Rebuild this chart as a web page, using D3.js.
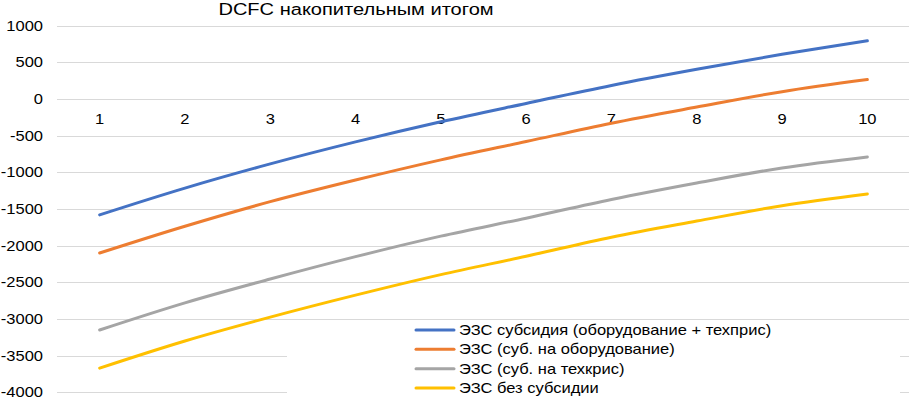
<!DOCTYPE html>
<html>
<head>
<meta charset="utf-8">
<script src="https://cdn.jsdelivr.net/npm/d3@7"></script>
<style>
  body { margin: 0; background: #fff; }
  svg { display: block; font-family: "Liberation Sans", Arial, sans-serif; }
</style>
</head>
<body>
<svg width="909" height="398"></svg>
<script>
const TITLE = 'DCFC накопительным итогом';
const YEARS = [1, 2, 3, 4, 5, 6, 7, 8, 9, 10];
const Y_TICKS = [1000, 500, 0, -500, -1000, -1500, -2000, -2500, -3000, -3500, -4000];

const SERIES_NAMES = [
  'ЭЗС субсидия (оборудование + техприс)',
  'ЭЗС (суб. на оборудование)',
  'ЭЗС (суб. на техкрис)',
  'ЭЗС без субсидии'
];
const SUB_FULL = [-1580, -1215, -885, -585, -310, -60, 185, 405, 610, 795];
const SUB_EQUIP = [-2100, -1735, -1400, -1105, -830, -580, -330, -110, 100, 265];
const SUB_CONN = [-3150, -2780, -2455, -2150, -1870, -1625, -1370, -1145, -940, -790];
const NO_SUB = [-3670, -3300, -2975, -2675, -2395, -2145, -1885, -1665, -1455, -1295];
const COLORS = ['#4472C4', '#ED7D31', '#A5A5A5', '#FFC000'];

const series = [SUB_FULL, SUB_EQUIP, SUB_CONN, NO_SUB].map((vals, i) => ({
  name: SERIES_NAMES[i],
  color: COLORS[i],
  values: vals.map((v, j) => ({ year: YEARS[j], value: v }))
}));

const SVG = d3.select('svg');
const LEFT = 57;
const RIGHT = 910;
const STRETCH = 1.18; // the picture's text is a bit wider than it is tall

const X_SCALE = d3.scaleBand()
  .domain(YEARS)
  .range([LEFT, RIGHT]);

const Y_SCALE = d3.scaleLinear()
  .domain([-4000, 1000])
  .range([392.3, 25.7]);

// gridlines
SVG.append('g')
  .selectAll('line')
  .data(Y_TICKS)
  .join('line')
  .attr('x1', LEFT)
  .attr('x2', 909)
  .attr('y1', d => Math.round(Y_SCALE(d)) + 0.5)
  .attr('y2', d => Math.round(Y_SCALE(d)) + 0.5)
  .style('stroke', '#d9d9d9')
  .style('stroke-width', 1);

// y labels
SVG.append('g')
  .selectAll('text')
  .data(Y_TICKS)
  .join('text')
  .attr('transform', d => `translate(43,${Y_SCALE(d)}) scale(${STRETCH},1)`)
  .attr('dy', '0.35em')
  .attr('text-anchor', 'end')
  .style('font-size', '14px')
  .style('fill', '#000')
  .text(d => d);

// x labels sit just under the zero line
SVG.append('g')
  .selectAll('text')
  .data(YEARS)
  .join('text')
  .attr('transform', d => `translate(${X_SCALE(d) + X_SCALE.bandwidth() / 2},${Y_SCALE(0) + 20}) scale(${STRETCH},1)`)
  .attr('dy', '0.35em')
  .attr('text-anchor', 'middle')
  .style('font-size', '14px')
  .style('fill', '#000')
  .text(d => d);

// lines
const LINE = d3.line()
  .x(d => X_SCALE(d.year) + X_SCALE.bandwidth() / 2)
  .y(d => Y_SCALE(d.value))
  .curve(d3.curveCatmullRom.alpha(0.5));

SVG.append('g')
  .selectAll('path')
  .data(series)
  .join('path')
  .attr('d', d => LINE(d.values))
  .style('fill', 'none')
  .style('stroke', d => d.color)
  .style('stroke-width', 3)
  .style('stroke-linecap', 'round')
  .style('stroke-linejoin', 'round');

// title
SVG.append('text')
  .attr('transform', `translate(356,15) scale(${STRETCH},1)`)
  .attr('text-anchor', 'middle')
  .style('font-size', '17px')
  .style('fill', '#000')
  .text(TITLE);

// legend
const LEGEND = SVG.append('g').attr('id', 'legend');
LEGEND.append('rect')
  .attr('x', 287)
  .attr('y', 322)
  .attr('width', 613)
  .attr('height', 76)
  .style('fill', '#fff');

const ROW_Y = d3.scalePoint()
  .domain(SERIES_NAMES)
  .range([330, 388]);

LEGEND.selectAll('line')
  .data(series)
  .join('line')
  .attr('x1', 416)
  .attr('x2', 454)
  .attr('y1', d => ROW_Y(d.name))
  .attr('y2', d => ROW_Y(d.name))
  .style('stroke', d => d.color)
  .style('stroke-width', 3)
  .style('stroke-linecap', 'round');

LEGEND.selectAll('text')
  .data(series)
  .join('text')
  .attr('transform', d => `translate(459,${ROW_Y(d.name)}) scale(${STRETCH},1)`)
  .attr('dy', '0.35em')
  .style('font-size', '14px')
  .style('fill', '#000')
  .text(d => d.name);
</script>
</body>
</html>
